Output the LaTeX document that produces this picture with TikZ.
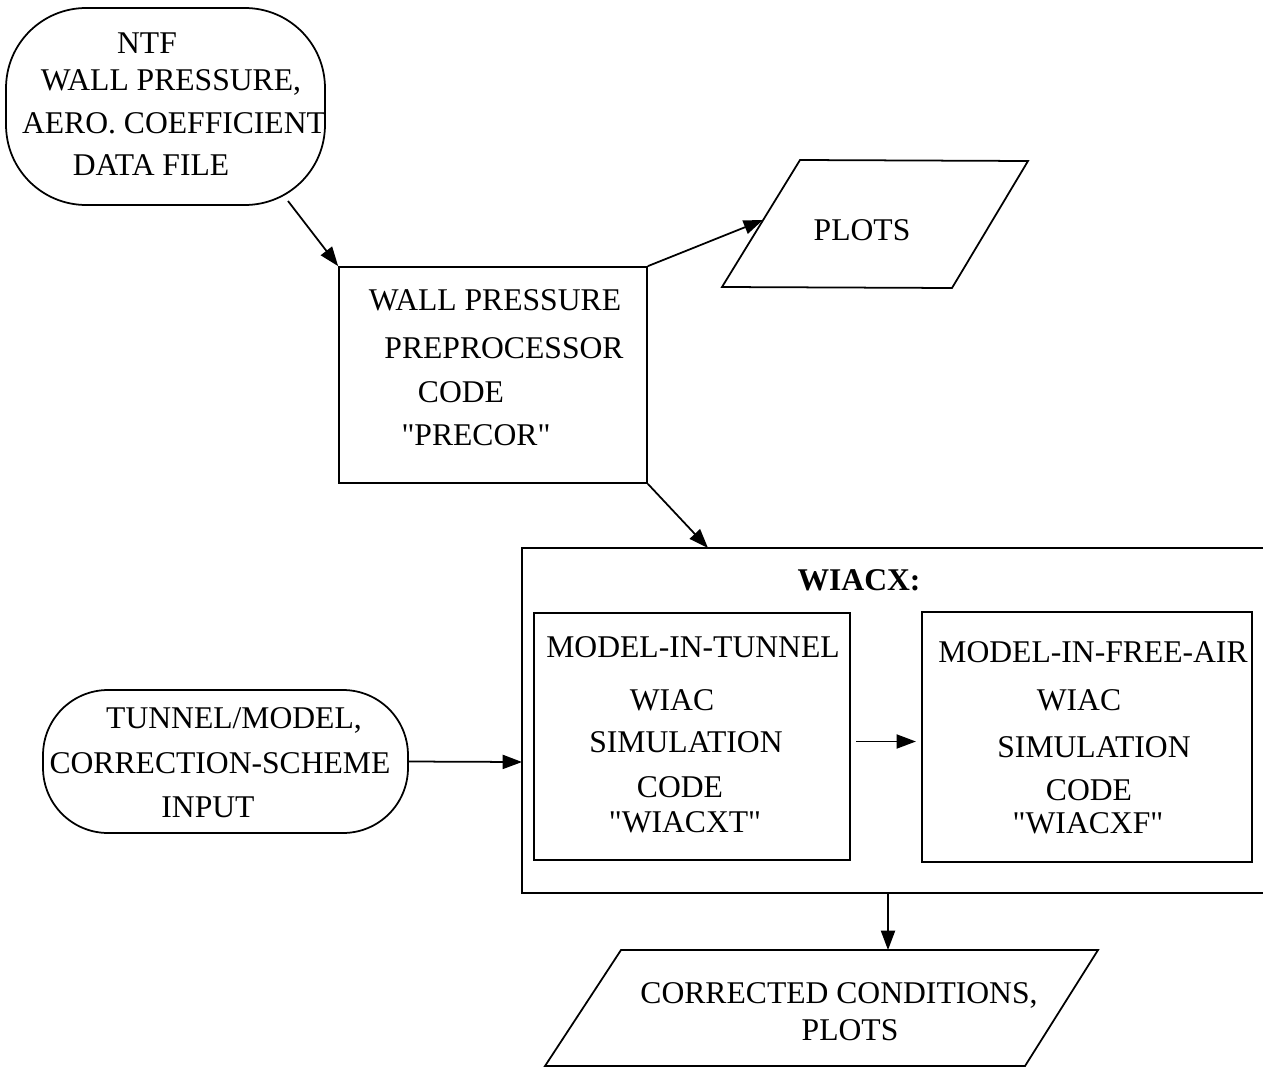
\documentclass[tikz,border=0pt]{standalone}
\usepackage{fontspec}
\setmainfont{Liberation Serif}
\usetikzlibrary{arrows.meta}

\begin{document}
\begin{tikzpicture}[x=0.02cm,y=-0.02cm,line width=1pt,
	>={Triangle[length=11pt,width=8pt]},
	txt/.style={inner sep=0pt,text height=11.9pt,text depth=0pt,font=\fontsize{18}{20}\selectfont},
	okvir/.style={draw,rectangle,inner sep=0pt},
	terminal/.style={draw,rectangle,inner sep=0pt}]
	\useasboundingbox (0,0) rectangle (1263,1068);

	% vhodni podatki
	\node[terminal,rounded corners=1.6cm,minimum width=6.38cm,minimum height=3.94cm] (ntf) at (165.5,106.5) {};
	\node[txt] (ntfa) at (147,43) {NTF};
	\node[txt] (ntfb) at (171,80) {WALL PRESSURE,};
	\node[txt] (ntfc) at (174,123) {AERO. COEFFICIENT};
	\node[txt] (ntfd) at (151,165) {DATA FILE};

	\node[terminal,rounded corners=1.3cm,minimum width=7.3cm,minimum height=2.86cm] (tunnel) at (225.5,761.5) {};
	\node[txt] (tunnela) at (234,718) {TUNNEL/MODEL,};
	\node[txt] (tunnelb) at (220,763) {CORRECTION-SCHEME};
	\node[txt] (tunnelc) at (208,807) {INPUT};

	% predprocesor
	\node[okvir,minimum width=6.16cm,minimum height=4.32cm] (precor) at (493,375) {};
	\node[txt] (precora) at (495,300) {WALL PRESSURE};
	\node[txt] (precorb) at (504,348) {PREPROCESSOR};
	\node[txt] (precorc) at (461,392) {CODE};
	\node[txt] (precord) at (476,435) {\textquotedbl PRECOR\textquotedbl};

	% izpis
	\draw (800,160) -- (1028,161) -- (952,288) -- (722,287) -- cycle;
	\node[txt] (plots) at (862,230) {PLOTS};
	\coordinate (plotsin) at (763,220);

	% WIACX okvir (desni rob je odrezan)
	\draw (1263,548) -- (522,548) -- (522,893) -- (1263,893);
	\coordinate (wiacxin) at (708,548);
	\coordinate (wiacxleft) at (522,762);
	\coordinate (wiacxout) at (888,893);
	\node[txt,font=\fontsize{18}{20}\selectfont\bfseries] (wiacx) at (859,580) {WIACX:};

	\node[okvir,minimum width=6.32cm,minimum height=4.94cm] (tbox) at (692,736.5) {};
	\node[txt] (tboxa) at (693,647) {MODEL-IN-TUNNEL};
	\node[txt] (tboxb) at (672,700) {WIAC};
	\node[txt] (tboxc) at (686,742) {SIMULATION};
	\node[txt] (tboxd) at (680,787) {CODE};
	\node[txt] (tboxe) at (685,822) {\textquotedbl WIACXT\textquotedbl};

	\node[okvir,minimum width=6.6cm,minimum height=5cm] (fbox) at (1087,737) {};
	\node[txt] (fboxa) at (1093,652) {MODEL-IN-FREE-AIR};
	\node[txt] (fboxb) at (1079,700) {WIAC};
	\node[txt] (fboxc) at (1094,747) {SIMULATION};
	\node[txt] (fboxd) at (1089,790) {CODE};
	\node[txt] (fboxe) at (1088,823) {\textquotedbl WIACXF\textquotedbl};

	% rezultati
	\draw (621,950) -- (1098,950) -- (1025,1066) -- (545,1066) -- cycle;
	\coordinate (resin) at (888,950);
	\node[txt] (resa) at (839,993) {CORRECTED CONDITIONS,};
	\node[txt] (resb) at (850,1030) {PLOTS};

	% puscice
	\coordinate (ntfout) at (288,201);
	\draw[->] (ntfout) -- (precor.north west);
	\draw[->] (precor.north east) -- (plotsin);
	\draw[->] (precor.south east) -- (wiacxin);
	\draw[->] (tunnel.east) -- (wiacxleft);
	\draw[->] ([xshift=3pt,yshift=-0.1cm]tbox.east) -- ([xshift=-3pt,yshift=-0.1cm]tbox.east -| fbox.west);
	\draw[->] (wiacxout) -- (resin);
\end{tikzpicture}
\end{document}
